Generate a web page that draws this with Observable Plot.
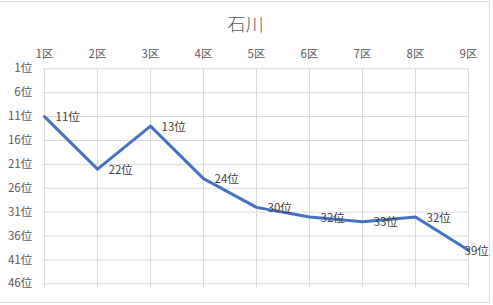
<!DOCTYPE html>
<html>
<head>
<meta charset="utf-8">
<script src="https://cdn.jsdelivr.net/npm/d3@7"></script>
<script src="https://cdn.jsdelivr.net/npm/@observablehq/plot@0.6"></script>
<style>
  html, body { margin: 0; padding: 0; background: #fff; }
  #wrap { position: relative; width: 493px; height: 305px; overflow: hidden; font-family: "Noto Sans CJK JP", "Noto Sans", sans-serif; }
  #frame { position: absolute; left: 0; top: 1px; width: 490px; height: 302px; border: 1px solid #d9d9d9; border-left: none; box-sizing: border-box; }
  #title { position: absolute; left: 0; top: 12px; width: 491px; text-align: center; font-size: 18px; line-height: 22px; color: #595959; font-weight: 300; }
  #chart { position: absolute; left: 0; top: 40px; }
  #chart svg { overflow: visible; }
</style>
</head>
<body>
<div id="wrap">
  <div id="frame"></div>
  <div id="title">石川</div>
  <div id="chart"></div>
</div>
<script>
const title = "石川";
const districts = ["1区", "2区", "3区", "4区", "5区", "6区", "7区", "8区", "9区"];
const ranks = [11, 22, 13, 24, 30, 32, 33, 32, 39];
const rankTicks = [1, 6, 11, 16, 21, 26, 31, 36, 41, 46];

const data = districts.map((d, i) => ({district: d, rank: ranks[i]}));
const lastIdx = data.length - 1;

const chart = Plot.plot({
  width: 493,
  height: 265,
  marginTop: 28.3,
  marginBottom: 21.7,
  marginLeft: 42.7,
  marginRight: 24.7,
  style: {fontFamily: '"Noto Sans CJK JP", "Noto Sans", sans-serif', fontSize: "11.5px", color: "#595959", background: "transparent"},
  x: {type: "point", domain: districts, padding: 0},
  y: {domain: [1, 46], reverse: true},
  marks: [
    Plot.gridX(districts, {stroke: "#d9d9d9", strokeOpacity: 1}),
    Plot.gridY(rankTicks, {stroke: "#d9d9d9", strokeOpacity: 1}),
    Plot.axisX(districts, {anchor: "bottom", tickSize: 4, stroke: "#d9d9d9", strokeOpacity: 1, tickFormat: () => "", label: null}),
    Plot.axisX(districts, {anchor: "top", tickSize: 0, tickPadding: 11, label: null, fill: "#595959"}),
    Plot.axisY(rankTicks, {anchor: "left", tickSize: 0, tickPadding: 11, tickFormat: d => d + "位", label: null, fill: "#595959"}),
    Plot.line(data, {x: "district", y: "rank", stroke: "#4472C4", strokeWidth: 3, strokeLinejoin: "round"}),
    Plot.text(data.slice(0, lastIdx), {x: "district", y: "rank", text: d => d.rank + "位", textAnchor: "start", dx: 11, dy: 1, fill: "#404040", fontSize: 11.5}),
    Plot.text(data.slice(lastIdx), {x: "district", y: "rank", text: d => d.rank + "位", textAnchor: "start", dx: -4, dy: 1, fill: "#404040", fontSize: 11.5})
  ]
});
document.getElementById("chart").appendChild(chart);
</script>
</body>
</html>
